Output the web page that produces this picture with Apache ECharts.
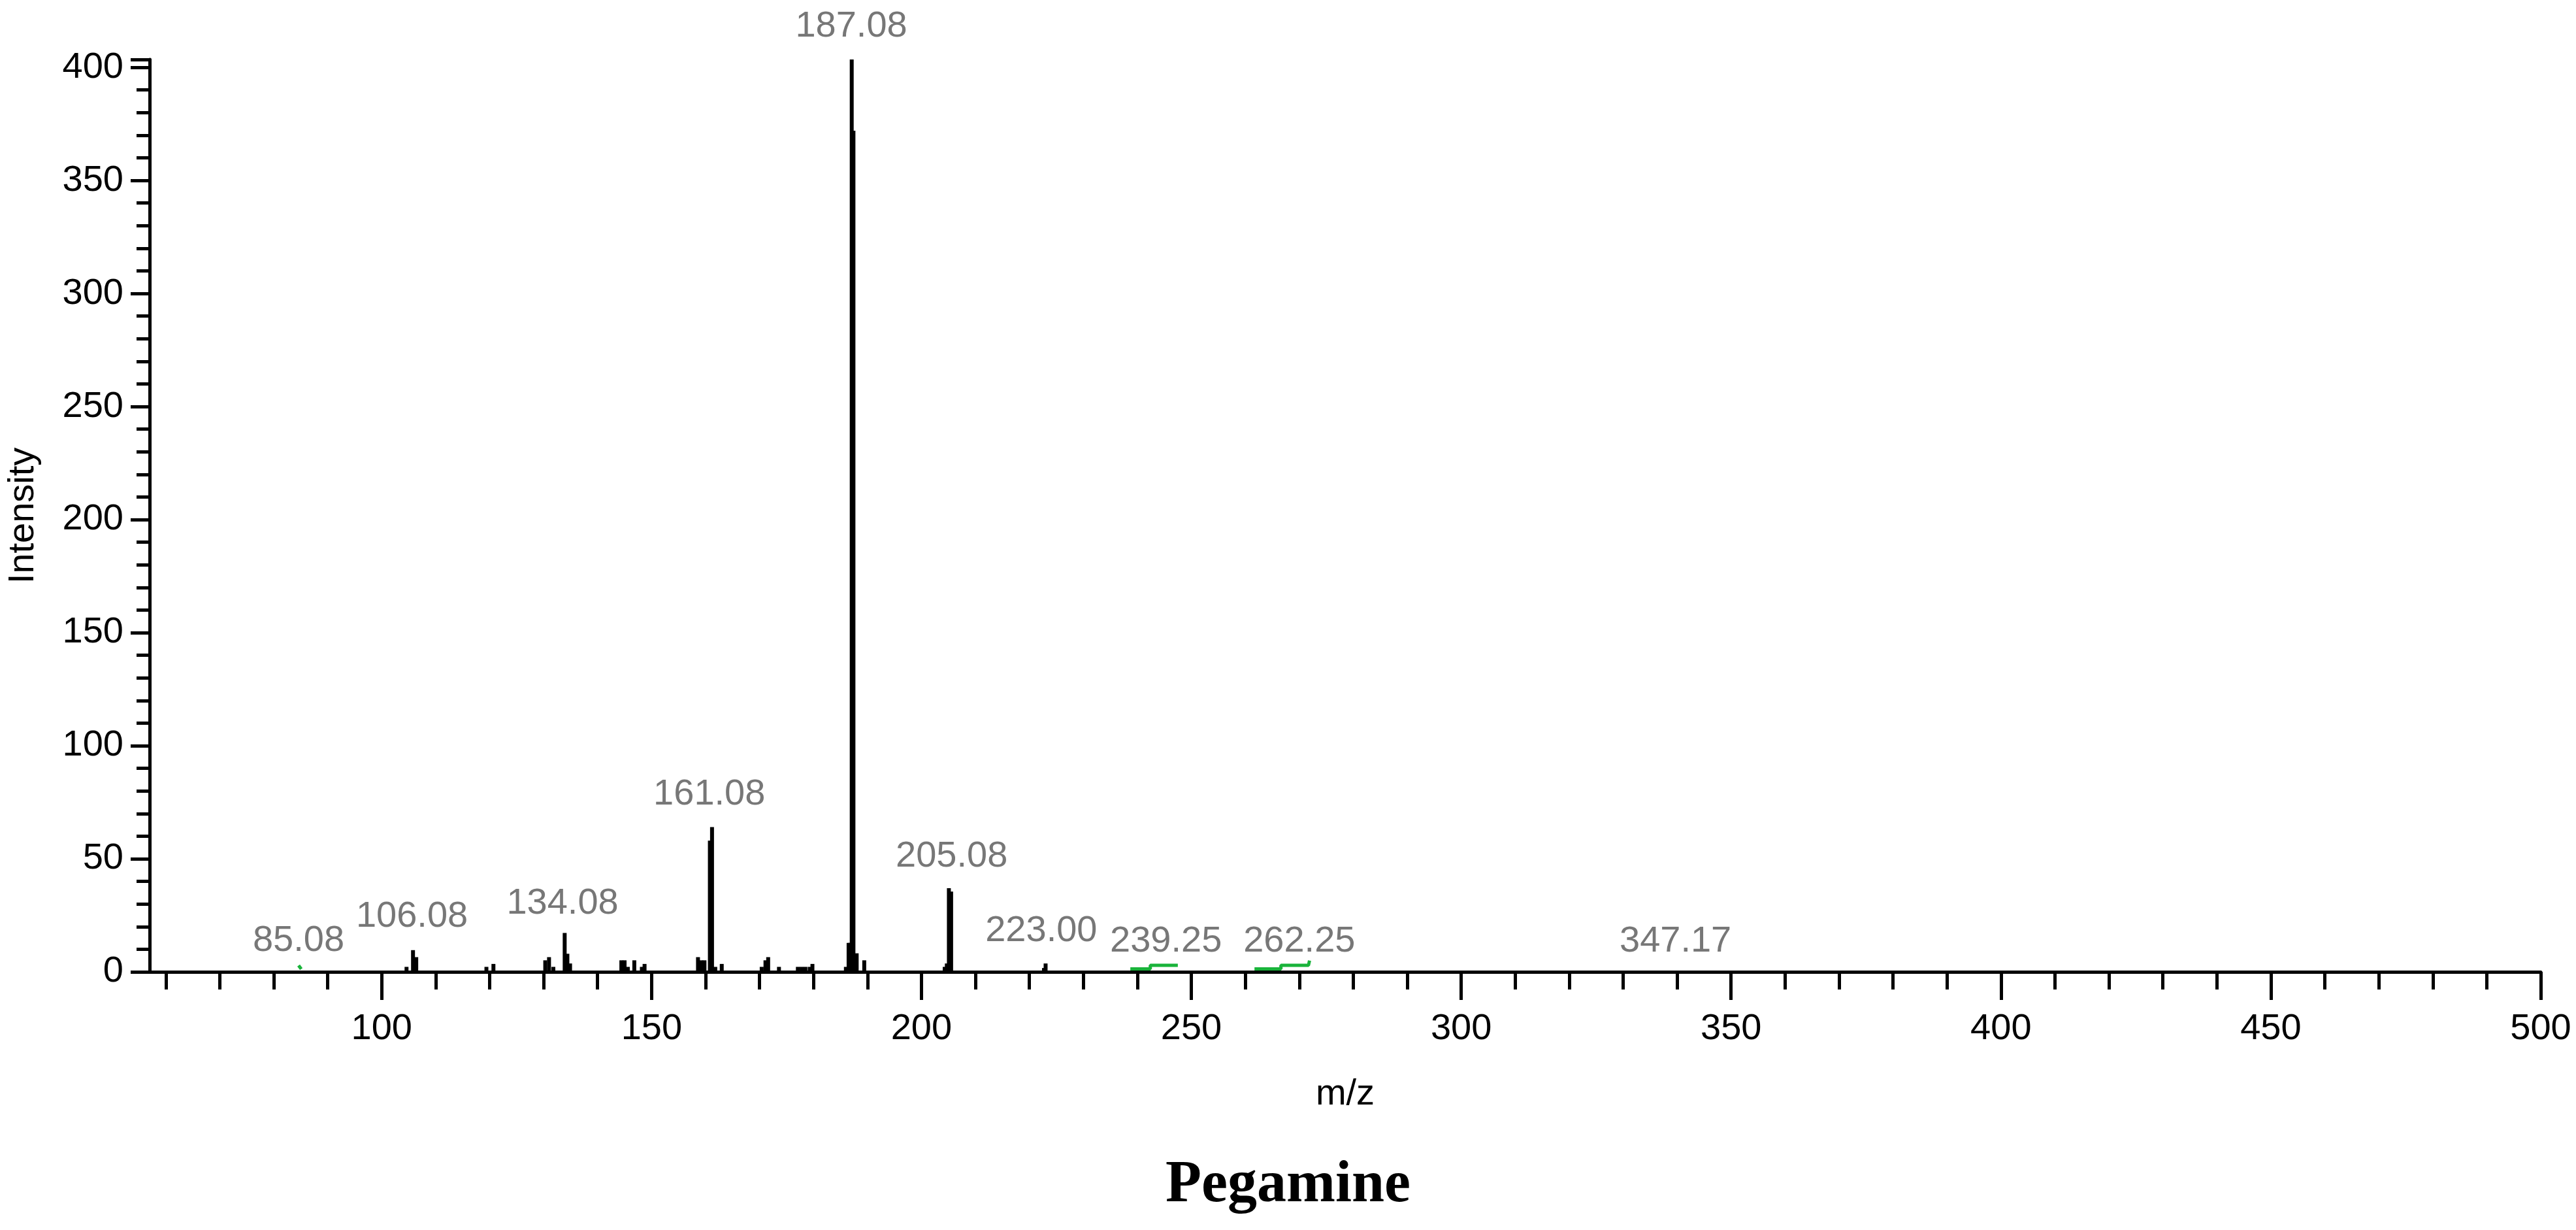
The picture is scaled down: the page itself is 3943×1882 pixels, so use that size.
<!DOCTYPE html>
<html><head><meta charset="utf-8">
<script src="https://cdn.jsdelivr.net/npm/echarts@6/dist/echarts.min.js"></script>
<style>html,body{margin:0;padding:0;background:#fff}#c{width:3943px;height:1882px}</style>
</head><body><div id="c"></div>
<script>
// black centroid peaks: m/z and intensity
const peakMz = [104.6,105.8,106.4,119.4,120.7,130.3,131.0,131.8,133.9,134.4,134.9,144.4,145.0,145.6,146.8,148.2,148.7,158.6,159.2,159.8,160.8,161.2,161.8,163.0,170.4,171.1,171.6,173.6,177.1,177.8,178.5,179.3,179.8,186.0,186.5,186.8,187.08,187.4,188.0,189.4,204.3,204.7,205.08,205.5,222.7,223.0];
const peakInt = [2.2,9.6,6.5,2.2,3.5,5.1,6.5,2.2,17.2,8,3.7,5.1,5.1,2.2,5.1,2.2,3.5,6.5,5.1,5.1,58,64,2.2,3.5,2.2,5.1,6.5,2.2,2.2,2.2,2.2,2.2,3.5,2.2,12.8,12.8,404,372,8.2,5.1,2.2,3.7,37,35.5,1.7,3.7];
// green profile traces (null = break)
const greenMz  = [84.6,85.1,null,238.7,242.4,242.4,247.5,null,261.7,266.6,266.6,271.7,271.9];
const greenInt = [2.8,1.2,null,1.3,1.3,2.9,2.9,null,1.3,1.3,2.9,2.9,5.0];
// peak annotations: anchor m/z, anchor intensity (label bottom), text
const annMz   = [84.6,105.6,133.5,160.7,187.0,205.6,222.2,245.3,270.0,339.7];
const annInt  = [5.5,16.2,22,70.5,410,43,9.9,5.3,5.3,5.3];
const annText = ['85.08','106.08','134.08','161.08','187.08','205.08','223.00','239.25','262.25','347.17'];
const xMajor = [100,150,200,250,300,350,400,450,500];
const xMinor = [60,70,80,90,100,110,120,130,140,150,160,170,180,190,200,210,220,230,240,250,260,270,280,290,300,310,320,330,340,350,360,370,380,390,400,410,420,430,440,450,460,470,480,490,500];

const FONT = "'Liberation Sans',Arial,sans-serif";
const chart = echarts.init(document.getElementById('c'), null, {renderer:'canvas'});
const xmin = 57, xmax = 500;
const axLine = {show:true, lineStyle:{color:'#000', width:5}};
chart.setOption({
  animation:false,
  backgroundColor:'#fff',
  grid:{left:229, right:54, top:91, bottom:395, containLabel:false},
  xAxis:[{
    type:'value', min:xmin, max:xmax, position:'bottom',
    axisLine:axLine, splitLine:{show:false},
    axisTick:{show:true, length:27, lineStyle:{color:'#000',width:5}, customValues:xMinor},
    axisLabel:{show:true, customValues:xMajor, margin:60, fontSize:56, fontFamily:FONT, color:'#000'},
    name:'m/z', nameLocation:'middle', nameGap:160, nameTextStyle:{fontSize:56, fontFamily:FONT, color:'#000'}
  },{
    type:'value', min:xmin, max:xmax, position:'bottom',
    axisLine:{show:false}, splitLine:{show:false},
    axisTick:{show:true, length:43, lineStyle:{color:'#000',width:5}, customValues:xMajor},
    axisLabel:{show:false}
  }],
  yAxis:{
    type:'value', min:0, max:403.5, interval:50,
    axisLine:axLine, splitLine:{show:false},
    axisTick:{show:true, length:29, lineStyle:{color:'#000',width:5}},
    minorTick:{show:true, splitNumber:5, length:20, lineStyle:{color:'#000',width:5}},
    axisLabel:{margin:40, fontSize:56, fontFamily:FONT, color:'#000',
      formatter:v=> (v%50===0 && v<=400) ? String(v) : ''},
    name:'Intensity', nameLocation:'middle', nameGap:165, nameRotate:90,
    nameTextStyle:{fontSize:56, fontFamily:FONT, color:'#000'}
  },
  series:[
    {type:'bar', xAxisIndex:0, barWidth:6, barGap:'-100%', itemStyle:{color:'#000'},
     data:peakMz.map((m,i)=>[m,peakInt[i]]), silent:true},
    {type:'line', xAxisIndex:0, showSymbol:false, connectNulls:false,
     lineStyle:{color:'#19b33a', width:5}, itemStyle:{color:'#19b33a'},
     data:greenMz.map((m,i)=> m===null ? [null,null] : [m,greenInt[i]]), silent:true, z:3},
    {type:'scatter', xAxisIndex:0, symbolSize:0, silent:true, clip:false,
     data:annMz.map((m,i)=>({value:[m,annInt[i]], name:annText[i]})),
     label:{show:true, position:'top', distance:0, formatter:p=>p.name,
       fontSize:56, fontFamily:FONT, color:'#555'}}
  ],
  graphic:[{type:'text', left:'center', top:1770,
    style:{text:'Pegamine', font:"bold 90px 'Liberation Serif','Times New Roman',serif", fill:'#000'}}]
});
</script></body></html>
